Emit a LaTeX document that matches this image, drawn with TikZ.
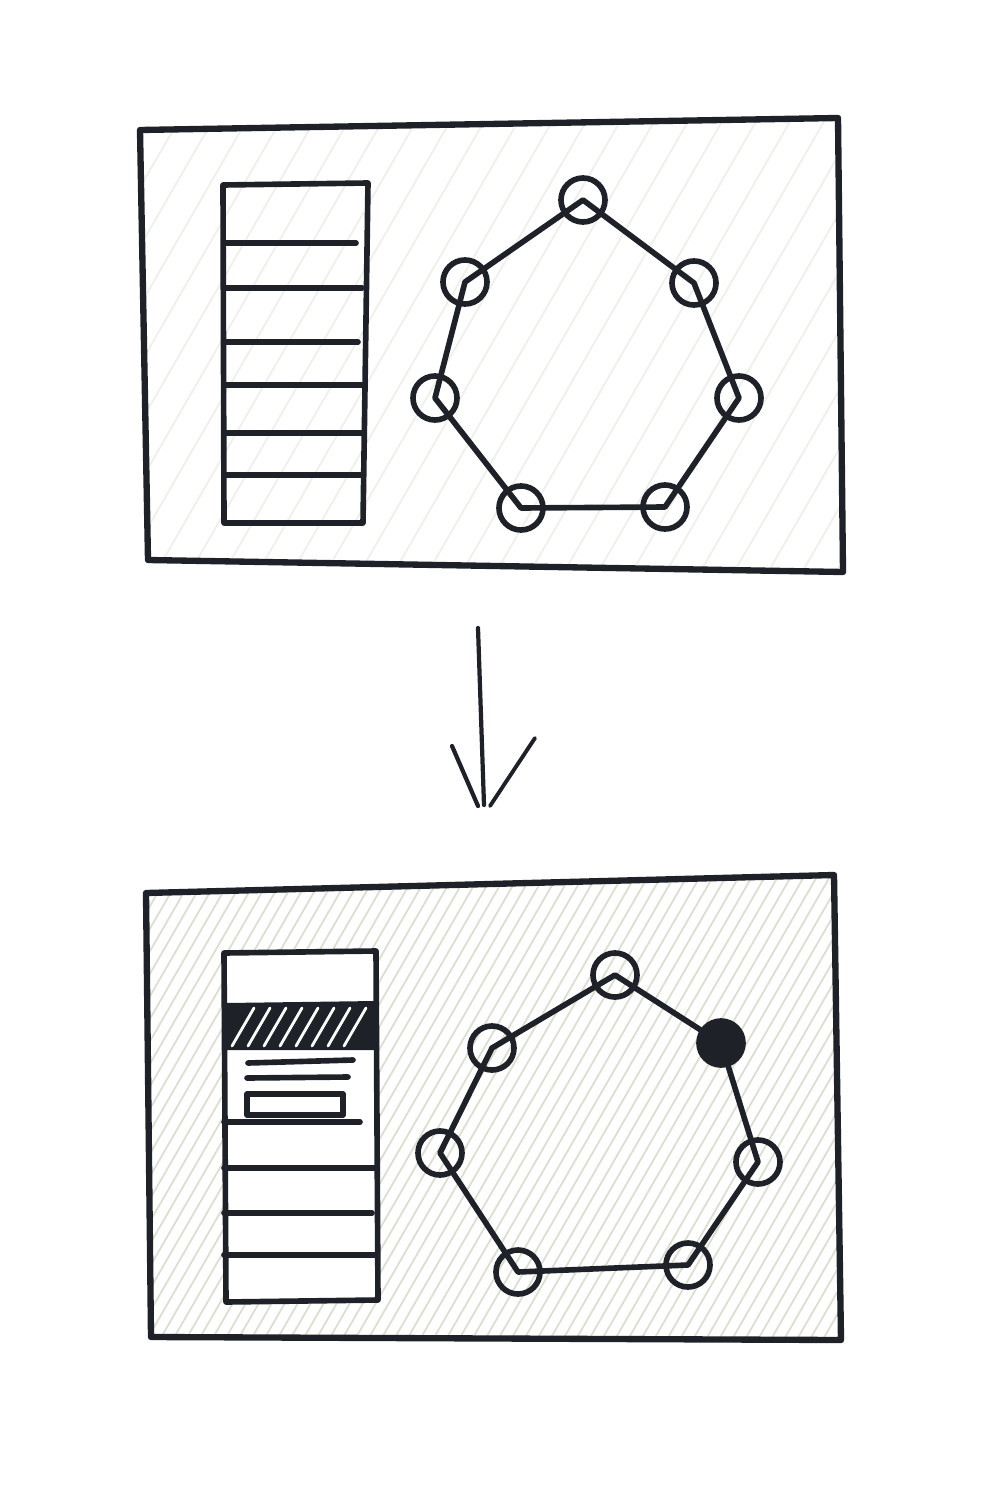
\documentclass[tikz,border=0pt]{standalone}
\definecolor{ink}{RGB}{30,34,40}
\definecolor{pencil}{RGB}{220,222,208}
\tikzset{every picture/.style={line width=1.6pt, line join=round, line cap=round}}
\tikzset{ring node/.style={circle, minimum size=0.44cm, draw=ink, inner sep=0pt}}
\tikzset{hatch/.style={pencil, line width=0.5pt}}
\newcommand{\hatching}[1]{\foreach \s in {100,#1,...,1300} \draw[hatch] (\s-300,1400) -- (\s+300,360);}

\begin{document}
\begin{tikzpicture}[x=0.01cm, y=-0.01cm]
    \useasboundingbox[fill=white] (0,0) rectangle (1007,1491);
    % before
    \begin{scope}
        \clip (140,130) -- (838,118) -- (843,572) -- (148,560) -- cycle;
        \foreach \s in {100,134,...,1500} \draw[hatch, pencil!45] (\s-300,600) -- (\s,80);
    \end{scope}
    \draw[ink, line width=1.8pt] (140,130) -- (838,118) -- (843,572) -- (148,560) -- cycle;
    \draw[ink] (223,185) -- (368,183) -- (363,523) -- (224,523) -- cycle;
    \foreach \y/\e in {243/356, 288/362, 342/358, 385/362, 433/362, 475/362}
        \draw[ink] (224,\y) -- (\e,\y);
    \foreach \n/\x/\y in {a1/583/200, a2/694/283, a3/739/398, a4/665/507, a5/521/508, a6/435/398, a7/465/282}
        \node[ring node] (\n) at (\x,\y) {};
    \draw[ink] (a1.center) -- (a2.center) -- (a3.center) -- (a4.center) -- (a5.center) -- (a6.center) -- (a7.center) -- cycle;

    % arrow
    \coordinate (arrow top) at (478,628);
    \coordinate (arrow tip) at (484,805);
    \coordinate (tip left) at (478,806);
    \coordinate (tip right) at (490,806);
    \draw[ink, line width=1.2pt] (arrow top) -- (arrow tip);
    \draw[ink, line width=1.2pt] (452,746) -- (tip left);
    \draw[ink, line width=1.1pt] (535,738) -- (tip right);

    % after
    \begin{scope}
        \clip (146,893) -- (834,875) -- (841,1340) -- (151,1337) -- cycle;
        \hatching{113}
    \end{scope}
    \draw[ink, line width=1.8pt] (146,893) -- (834,875) -- (841,1340) -- (151,1337) -- cycle;
    \fill[white] (224,953) -- (376,951) -- (378,1300) -- (226,1302) -- cycle;
    \fill[ink] (226,1003) -- (376,1001) -- (376,1050) -- (226,1050) -- cycle;
    \foreach \s in {246,262,...,370} \draw[white, line width=0.8pt] (\s-14,1046) -- (\s+8,1008);
    \draw[ink] (224,953) -- (376,951) -- (378,1300) -- (226,1302) -- cycle;
    \draw[ink] (248,1063) -- (353,1060);
    \draw[ink] (247,1078) -- (348,1077);
    \draw[ink] (247,1094) rectangle (343,1115);
    \foreach \y/\e in {1122/360, 1168/375, 1213/372, 1255/375}
        \draw[ink] (224,\y) -- (\e,\y);
    \foreach \n/\x/\y in {b1/615/975, b2/721/1043, b3/758/1162, b4/688/1265, b5/518/1272, b6/440/1153, b7/492/1048}
        \node[ring node] (\n) at (\x,\y) {};
    \draw[ink] (b1.center) -- (b2.center) -- (b3.center) -- (b4.center) -- (b5.center) -- (b6.center) -- (b7.center) -- cycle;
    \fill[ink] (b2.center) circle[radius=23];
\end{tikzpicture}
\end{document}
